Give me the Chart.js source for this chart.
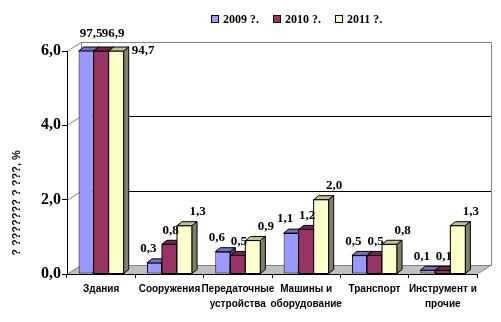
<!DOCTYPE html>
<html>
<head>
<meta charset="utf-8">
<script src="https://cdn.jsdelivr.net/npm/chart.js@4"></script>
<style>
  body { margin: 0; background: #fff; }
  canvas { display: block; }
</style>
</head>
<body>
<canvas id="chart" width="501" height="322"></canvas>
<script>
// chart data
const categories = [
    'Здания',
    'Сооружения',
    ['Передаточные', 'устройства'],
    ['Машины и', 'оборудование'],
    'Транспорт',
    ['Инструмент и', 'прочие']
];
const seriesNames = ['2009 ?.', '2010 ?.', '2011 ?.'];
const values2009 = [97.5, 0.3, 0.6, 1.1, 0.5, 0.1];
const values2010 = [96.9, 0.8, 0.5, 1.2, 0.5, 0.1];
const values2011 = [94.7, 1.3, 0.9, 2.0, 0.8, 1.3];
const yTicks = [0, 2, 4, 6];
const yTitle = '? ??????? ? ???, %';

const colors = ['#9999FF', '#993366', '#FFFFCC'];

// 3D look
const wallDx = 14, wallDy = -9;
const barDx = 5, barDy = -4;

function fmt(v) {
    return v.toFixed(1).replace('.', ',');
}

function shade(hex, f) {
    const n = parseInt(hex.slice(1), 16);
    const r = Math.round(((n >> 16) & 255) * f);
    const g = Math.round(((n >> 8) & 255) * f);
    const b = Math.round((n & 255) * f);
    return `rgb(${r},${g},${b})`;
}

// Back wall, side wall lines and floor
const wallPlugin = {
    id: 'wall',
    beforeDraw(chart) {
        const { ctx, chartArea: a, scales } = chart;
        const y = scales.y;
        ctx.save();
        ctx.lineWidth = 1;
        // floor
        ctx.fillStyle = '#C0C0C0';
        ctx.beginPath();
        ctx.moveTo(a.left, a.bottom);
        ctx.lineTo(a.right, a.bottom);
        ctx.lineTo(a.right + wallDx, a.bottom + wallDy);
        ctx.lineTo(a.left + wallDx, a.bottom + wallDy);
        ctx.closePath();
        ctx.fill();
        ctx.strokeStyle = '#808080';
        ctx.beginPath();
        ctx.moveTo(a.right + 0.5, a.bottom);
        ctx.lineTo(a.right + wallDx + 0.5, a.bottom + wallDy);
        ctx.stroke();
        // back wall outline
        ctx.strokeRect(Math.round(a.left + wallDx) + 0.5, Math.round(a.top + wallDy) + 0.5,
            Math.round(a.right - a.left), Math.round(a.bottom - a.top));
        // gridlines on back wall + diagonals on the side wall
        yTicks.forEach(v => {
            const py = Math.round(y.getPixelForValue(v)) + 0.5;
            ctx.strokeStyle = '#808080';
            ctx.beginPath();
            ctx.moveTo(a.left, py);
            ctx.lineTo(a.left + wallDx, py + wallDy);
            ctx.stroke();
            if (v > 0 && v < 6) {
                ctx.strokeStyle = '#000';
                ctx.beginPath();
                ctx.moveTo(a.left + wallDx, py + wallDy);
                ctx.lineTo(a.right + wallDx, py + wallDy);
                ctx.stroke();
            }
        });
        ctx.restore();
    }
};

function frontFace(ctx, bar, color, a) {
    const left = bar.x - bar.width / 2;
    const top = Math.max(bar.y, a.top);
    ctx.fillStyle = color;
    ctx.fillRect(left, top, bar.width, bar.base - top);
    ctx.strokeStyle = '#000';
    ctx.strokeRect(left, top, bar.width, bar.base - top);
}

// Top and side faces of the bars, plus value labels
const bars3dPlugin = {
    id: 'bars3d',
    afterDatasetsDraw(chart) {
        const { ctx, chartArea: a } = chart;
        const metas = chart.data.datasets.map((_, i) => chart.getDatasetMeta(i));
        ctx.save();
        ctx.lineWidth = 1;
        categories.forEach((_, j) => {
            metas.forEach((meta, i) => {
                const bar = meta.data[j];
                const left = bar.x - bar.width / 2;
                const right = bar.x + bar.width / 2;
                const top = Math.max(bar.y, a.top);
                ctx.strokeStyle = '#000';
                ctx.fillStyle = shade(colors[i], 0.75);
                ctx.beginPath();
                ctx.moveTo(left, top);
                ctx.lineTo(left + barDx, top + barDy);
                ctx.lineTo(right + barDx, top + barDy);
                ctx.lineTo(right, top);
                ctx.closePath();
                ctx.fill();
                ctx.stroke();
                ctx.fillStyle = shade(colors[i], 0.5);
                ctx.beginPath();
                ctx.moveTo(right, top);
                ctx.lineTo(right + barDx, top + barDy);
                ctx.lineTo(right + barDx, bar.base + barDy);
                ctx.lineTo(right, bar.base);
                ctx.closePath();
                ctx.fill();
                ctx.stroke();
                if (i < metas.length - 1) {
                    frontFace(ctx, metas[i + 1].data[j], colors[i + 1], a);
                }
            });
        });
        // value labels
        const dxs = [-6, 1, 13];
        const clipDxs = [5, 12, 27];
        const clipDys = [-17, -17, 0];
        ctx.fillStyle = '#000';
        ctx.font = 'bold 13px "Liberation Serif"';
        ctx.textAlign = 'center';
        ctx.textBaseline = 'middle';
        metas.forEach((meta, i) => {
            meta.data.forEach((bar, j) => {
                const v = chart.data.datasets[i].data[j];
                let x, y;
                if (bar.y < a.top) {
                    x = bar.x + clipDxs[i];
                    y = a.top + clipDys[i];
                } else {
                    x = bar.x + dxs[i];
                    y = bar.y - 14;
                }
                ctx.fillText(fmt(v), x, y);
            });
        });
        ctx.restore();
    },
    afterDraw(chart) {
        const { ctx } = chart;
        ctx.save();
        // legend
        ctx.font = 'bold 12px "Liberation Serif"';
        ctx.textBaseline = 'middle';
        ctx.textAlign = 'left';
        let x = 211;
        const ly = 20;
        seriesNames.forEach((name, i) => {
            ctx.fillStyle = colors[i];
            ctx.fillRect(x + 0.5, ly - 4.5, 7, 7);
            ctx.strokeStyle = '#000';
            ctx.lineWidth = 1;
            ctx.strokeRect(x + 0.5, ly - 4.5, 7, 7);
            ctx.fillStyle = '#000';
            ctx.fillText(name, x + 12, ly);
            x += 12 + ctx.measureText(name).width + 14;
        });
        // y axis title
        ctx.font = 'bold 11px "Liberation Sans"';
        ctx.translate(17, 203);
        ctx.rotate(-Math.PI / 2);
        ctx.textAlign = 'center';
        ctx.fillText(yTitle, 0, 0);
        ctx.restore();
    }
};

const ctx = document.getElementById('chart').getContext('2d');
new Chart(ctx, {
    type: 'bar',
    data: {
        labels: categories,
        datasets: [
            { label: seriesNames[0], data: values2009, backgroundColor: colors[0] },
            { label: seriesNames[1], data: values2010, backgroundColor: colors[1] },
            { label: seriesNames[2], data: values2011, backgroundColor: colors[2] }
        ].map(d => Object.assign(d, { borderColor: '#000', borderWidth: 1, borderSkipped: false }))
    },
    options: {
        responsive: false,
        animation: false,
        layout: { padding: { top: 51, right: 24, left: 0, bottom: 0 } },
        datasets: { bar: { categoryPercentage: 0.66, barPercentage: 1 } },
        plugins: {
            legend: { display: false },
            tooltip: { enabled: false }
        },
        scales: {
            x: {
                afterFit(scale) { scale.height = 48; },
                grid: { offset: true, drawOnChartArea: false, tickLength: 4, color: '#000' },
                border: { display: true, color: '#000' },
                ticks: {
                    autoSkip: false, maxRotation: 0, minRotation: 0, padding: 4,
                    color: '#000',
                    font: { family: '"Liberation Sans"', size: 10, weight: 'bold', lineHeight: 1.45 }
                }
            },
            y: {
                min: 0,
                max: 6,
                afterFit(scale) { scale.width = 67; },
                afterBuildTicks(scale) { scale.ticks = yTicks.map(v => ({ value: v })); },
                grid: { drawOnChartArea: false, tickLength: 5, color: '#000' },
                border: { display: true, color: '#000' },
                ticks: {
                    padding: 1,
                    color: '#000',
                    callback: v => fmt(v),
                    font: { family: '"Liberation Serif"', size: 16, weight: 'bold' }
                }
            }
        }
    },
    plugins: [wallPlugin, bars3dPlugin]
});
</script>
</body>
</html>
